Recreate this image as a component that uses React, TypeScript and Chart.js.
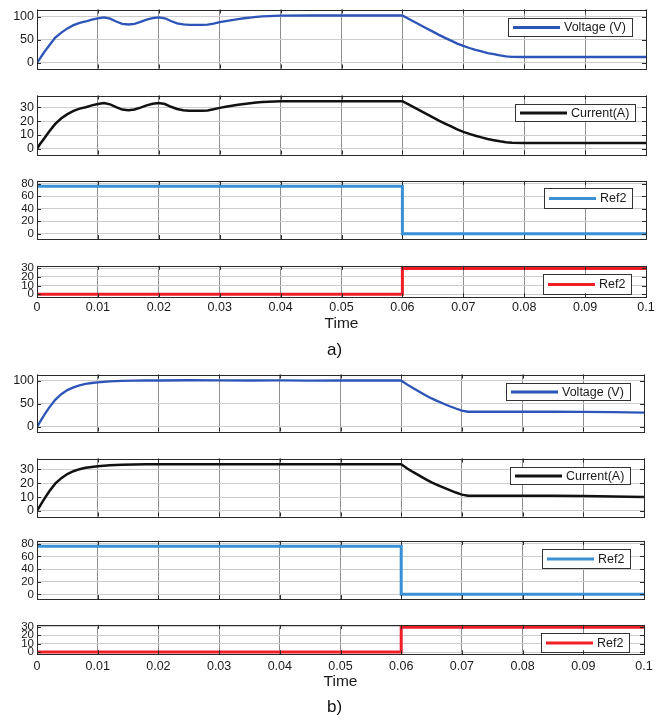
import React, { useEffect, useRef } from "react";
import { Chart, registerables } from "chart.js";

Chart.register(...registerables);

// ---------- data ----------
const xTicks = [0, 0.01, 0.02, 0.03, 0.04, 0.05, 0.06, 0.07, 0.08, 0.09, 0.1];
const xTickLabels = ["0", "0.01", "0.02", "0.03", "0.04", "0.05", "0.06", "0.07", "0.08", "0.09", "0.1"];

const timeA = [
  0, 0.0005, 0.001, 0.0015, 0.002, 0.003, 0.004, 0.005, 0.006, 0.007, 0.008, 0.009,
  0.01, 0.011, 0.012, 0.013, 0.014, 0.015, 0.016, 0.017, 0.018, 0.019, 0.02, 0.021,
  0.022, 0.023, 0.024, 0.025, 0.026, 0.027, 0.028, 0.029, 0.03, 0.031, 0.032, 0.033,
  0.034, 0.035, 0.036, 0.037, 0.038, 0.04, 0.045, 0.05, 0.055, 0.06, 0.061, 0.062,
  0.063, 0.064, 0.065, 0.066, 0.067, 0.068, 0.069, 0.07, 0.071, 0.072, 0.073, 0.074,
  0.075, 0.076, 0.077, 0.078, 0.08, 0.085, 0.09, 0.095, 0.1,
];
const voltageA = [
  0, 10, 20, 29, 38, 55, 66, 75, 82, 87, 90, 94,
  97, 99, 96, 90, 85, 83.5, 85, 89, 94, 97.5, 99, 97,
  91, 86, 83.5, 82.5, 82.5, 82.5, 83, 85.5, 88.5, 91, 93, 95,
  97, 98.5, 100, 101, 101.8, 102.5, 103, 103, 103, 103, 96, 89,
  82, 75, 68, 61, 54.5, 48.5, 42, 37, 32.5, 28.5, 25, 21.5,
  19, 16.5, 14.5, 13.2, 13, 13, 13, 13, 13,
];
const currentA = [
  0, 3.5, 6.5, 9.5, 12.5, 18, 22, 25, 27.3, 29, 30, 31.3,
  32.3, 33, 32, 30, 28.3, 27.8, 28.3, 29.7, 31.3, 32.5, 33, 32.3,
  30.3, 28.7, 27.8, 27.5, 27.5, 27.5, 27.7, 28.5, 29.5, 30.3, 31, 31.7,
  32.3, 32.8, 33.3, 33.7, 33.9, 34.2, 34.3, 34.3, 34.3, 34.3, 32, 29.7,
  27.3, 25, 22.7, 20.3, 18.2, 16.2, 14, 12.3, 10.8, 9.5, 8.3, 7.2,
  6.3, 5.5, 4.8, 4.4, 4.3, 4.3, 4.3, 4.3, 4.3,
];

const timeB = [
  0, 0.0005, 0.001, 0.0015, 0.002, 0.003, 0.004, 0.005, 0.006, 0.007, 0.008, 0.009,
  0.01, 0.012, 0.014, 0.016, 0.018, 0.02, 0.025, 0.03, 0.035, 0.04, 0.045, 0.05,
  0.055, 0.06, 0.061, 0.062, 0.063, 0.064, 0.065, 0.066, 0.067, 0.068, 0.069, 0.07,
  0.071, 0.075, 0.08, 0.085, 0.09, 0.095, 0.1,
];
const voltageB = [
  0, 11, 22, 32, 42, 59, 71, 80, 86, 90.5, 93.5, 95.5,
  97, 99, 100, 100.7, 101, 101, 101.5, 101.2, 101, 101.2, 100.8, 101,
  101, 101, 92, 84, 76.5, 69, 62, 56, 50.5, 45, 40, 35.5,
  33, 33, 33, 33, 32.5, 32, 31,
];
const currentB = [
  0, 3.7, 7.3, 10.7, 14, 19.7, 23.7, 26.7, 28.7, 30.2, 31.2, 31.8,
  32.3, 33, 33.3, 33.6, 33.7, 33.7, 33.8, 33.8, 33.7, 33.8, 33.7, 33.7,
  33.7, 33.7, 30.7, 28, 25.5, 23, 20.7, 18.7, 16.8, 15, 13.3, 11.8,
  11, 11, 11, 11, 10.8, 10.5, 10,
];

const refTime = [0, 0.06, 0.06, 0.1];
const ref2BlueA = [76, 76, 0, 0];
const ref2RedA = [0, 0, 29.5, 29.5];
const ref2BlueB = [76, 76, 0, 0];
const ref2RedB = [0, 0, 29.5, 29.5];

const voltageTicks = [0, 50, 100];
const currentTicks = [0, 10, 20, 30];
const refBlueTicks = [0, 20, 40, 60, 80];
const refRedTicks = [0, 10, 20, 30];

// ---------- styling ----------
const FONT = '"Liberation Sans", Arial, Helvetica, sans-serif';
const PAD = 8;
const W = 669;

type PanelCfg = {
  top: number;
  bottom: number;
  left: number;
  right: number;
  time: number[];
  values: number[];
  label: string;
  color: string;
  lineWidth: number;
  yMin: number;
  yMax: number;
  yTicks: number[];
  yFont: number;
  legend: { rightGap: number; topGap?: number; bottomGap?: number; height: number };
  xAxis?: { labelPad: number; height: number };
};

const framePlugin = {
  id: "matlabFrame",
  afterDraw(chart: any) {
    const { ctx, chartArea: a, scales } = chart;
    ctx.save();
    ctx.strokeStyle = "#2a2a2a";
    ctx.lineWidth = 1;
    ctx.beginPath();
    const xs = scales.x;
    const ys = scales.y;
    xs.ticks.forEach((t: any) => {
      const px = Math.round(xs.getPixelForValue(t.value)) + 0.5;
      ctx.moveTo(px, a.top);
      ctx.lineTo(px, a.top + 4);
      ctx.moveTo(px, a.bottom);
      ctx.lineTo(px, a.bottom - 4);
    });
    ys.ticks.forEach((t: any) => {
      const py = Math.round(ys.getPixelForValue(t.value)) + 0.5;
      ctx.moveTo(a.left, py);
      ctx.lineTo(a.left + 4, py);
      ctx.moveTo(a.right, py);
      ctx.lineTo(a.right - 4, py);
    });
    ctx.stroke();
    ctx.strokeRect(
      Math.round(a.left) + 0.5,
      Math.round(a.top) + 0.5,
      Math.round(a.right) - Math.round(a.left),
      Math.round(a.bottom) - Math.round(a.top)
    );
    ctx.restore();
  },
};

const legendPlugin = {
  id: "boxLegend",
  afterDatasetsDraw(chart: any, _args: any, opts: any) {
    const { ctx, chartArea: a } = chart;
    const ds = chart.data.datasets[0];
    ctx.save();
    ctx.font = `12.5px ${FONT}`;
    const tw = ctx.measureText(ds.label).width;
    const padL = 5, lineLen = 47, gap = 4, padR = 6;
    const w = padL + lineLen + gap + tw + padR;
    const h = opts.height;
    const x = Math.round(a.right - opts.rightGap - w);
    const y = Math.round(
      opts.topGap != null ? a.top + opts.topGap : a.bottom - opts.bottomGap - h
    );
    ctx.fillStyle = "#ffffff";
    ctx.fillRect(x, y, w, h);
    ctx.strokeStyle = "#333333";
    ctx.lineWidth = 1;
    ctx.strokeRect(x + 0.5, y + 0.5, Math.round(w), Math.round(h));
    ctx.strokeStyle = ds.borderColor;
    ctx.lineWidth = 3;
    ctx.beginPath();
    ctx.moveTo(x + padL, y + h / 2 + 0.5);
    ctx.lineTo(x + padL + lineLen, y + h / 2 + 0.5);
    ctx.stroke();
    ctx.fillStyle = "#1a1a1a";
    ctx.textBaseline = "middle";
    ctx.textAlign = "left";
    ctx.fillText(ds.label, x + padL + lineLen + gap, y + h / 2 + 1);
    ctx.restore();
  },
};

function Panel({ cfg }: { cfg: PanelCfg }) {
  const ref = useRef<HTMLCanvasElement | null>(null);
  const plotH = cfg.bottom - cfg.top;
  const xH = cfg.xAxis ? cfg.xAxis.height : 0;
  const canvasH = Math.round(plotH + PAD + xH + PAD);

  useEffect(() => {
    if (!ref.current) return;
    const chart = new Chart(ref.current, {
      type: "line",
      data: {
        datasets: [
          {
            label: cfg.label,
            data: cfg.time.map((t, i) => ({ x: t, y: cfg.values[i] })),
            borderColor: cfg.color,
            backgroundColor: cfg.color,
            borderWidth: cfg.lineWidth,
            pointRadius: 0,
            tension: 0,
            fill: false,
          },
        ],
      },
      options: {
        animation: false,
        responsive: false,
        maintainAspectRatio: false,
        devicePixelRatio: 1,
        events: [],
        layout: {
          padding: { left: 0, right: W - cfg.right, top: PAD, bottom: PAD },
        },
        plugins: {
          legend: { display: false },
          tooltip: { enabled: false },
          // @ts-ignore
          boxLegend: cfg.legend,
        },
        scales: {
          x: {
            type: "linear",
            min: 0,
            max: 0.1,
            afterBuildTicks: (s: any) => {
              s.ticks = xTicks.map((v) => ({ value: v }));
            },
            afterFit: (s: any) => {
              s.height = xH;
            },
            grid: { color: "#8e8e8e", lineWidth: 1, drawTicks: false },
            border: { display: false },
            ticks: {
              display: !!cfg.xAxis,
              autoSkip: false,
              maxRotation: 0,
              padding: cfg.xAxis ? cfg.xAxis.labelPad : 0,
              color: "#1a1a1a",
              font: { family: FONT, size: 12.5 },
              callback: (_v: any, i: number) => xTickLabels[i],
            },
            title: {
              display: !!cfg.xAxis,
              text: "Time",
              color: "#1a1a1a",
              font: { family: FONT, size: 15.5 },
              padding: 0,
            },
          },
          y: {
            type: "linear",
            min: cfg.yMin,
            max: cfg.yMax,
            afterBuildTicks: (s: any) => {
              s.ticks = cfg.yTicks.map((v) => ({ value: v }));
            },
            afterFit: (s: any) => {
              s.width = cfg.left;
            },
            grid: { color: "#cdcdcd", lineWidth: 1, drawTicks: false },
            border: { display: false },
            ticks: {
              autoSkip: false,
              padding: 3,
              color: "#1a1a1a",
              font: { family: FONT, size: cfg.yFont },
              callback: (v: any) => String(v),
            },
          },
        },
      },
      plugins: [legendPlugin, framePlugin],
    } as any);
    return () => chart.destroy();
  }, []);

  return (
    <canvas
      ref={ref}
      width={W}
      height={canvasH}
      style={{ position: "absolute", left: 0, top: cfg.top - PAD, width: W, height: canvasH }}
    />
  );
}

const VOLT_COLOR = "#2d55b8";
const CURR_COLOR = "#111111";
const REF_BLUE = "#3a90d4";
const REF_RED = "#ee1f27";

const panels: PanelCfg[] = [
  // ---- a) ----
  {
    top: 7, bottom: 71, left: 37, right: 646, time: timeA, values: voltageA,
    label: "Voltage (V)", color: VOLT_COLOR, lineWidth: 2.3,
    yMin: -12, yMax: 116, yTicks: voltageTicks, yFont: 12.5,
    legend: { rightGap: 14, topGap: 8, height: 18 },
  },
  {
    top: 92.7, bottom: 156.7, left: 37, right: 646, time: timeA, values: currentA,
    label: "Current(A)", color: CURR_COLOR, lineWidth: 2.5,
    yMin: -4, yMax: 38.4, yTicks: currentTicks, yFont: 12.5,
    legend: { rightGap: 11, topGap: 8.3, height: 17 },
  },
  {
    top: 179.3, bottom: 241.7, left: 37, right: 646, time: refTime, values: ref2BlueA,
    label: "Ref2", color: REF_BLUE, lineWidth: 3,
    yMin: -8.5, yMax: 84.5, yTicks: refBlueTicks, yFont: 11.5,
    legend: { rightGap: 14, topGap: 6.7, height: 20 },
  },
  {
    top: 263.7, bottom: 297.3, left: 37, right: 646, time: refTime, values: ref2RedA,
    label: "Ref2", color: REF_RED, lineWidth: 3,
    yMin: -3.5, yMax: 32.5, yTicks: refRedTicks, yFont: 11.5,
    legend: { rightGap: 15, bottomGap: 3.3, height: 20 },
    xAxis: { labelPad: 3, height: 35.7 },
  },
  // ---- b) ----
  {
    top: 372.3, bottom: 434.3, left: 37, right: 644, time: timeB, values: voltageB,
    label: "Voltage (V)", color: VOLT_COLOR, lineWidth: 2.3,
    yMin: -10, yMax: 114, yTicks: voltageTicks, yFont: 12.5,
    legend: { rightGap: 14, topGap: 8.4, height: 17 },
  },
  {
    top: 455.7, bottom: 518.3, left: 37, right: 644, time: timeB, values: currentB,
    label: "Current(A)", color: CURR_COLOR, lineWidth: 2.5,
    yMin: -4, yMax: 37.9, yTicks: currentTicks, yFont: 12.5,
    legend: { rightGap: 14, topGap: 8.3, height: 17 },
  },
  {
    top: 539.3, bottom: 601, left: 37, right: 644, time: refTime, values: ref2BlueB,
    label: "Ref2", color: REF_BLUE, lineWidth: 3,
    yMin: -7.5, yMax: 84.5, yTicks: refBlueTicks, yFont: 11.5,
    legend: { rightGap: 14, topGap: 8, height: 19 },
  },
  {
    top: 623, bottom: 654, left: 37, right: 644, time: refTime, values: ref2RedB,
    label: "Ref2", color: REF_RED, lineWidth: 3,
    yMin: -2.6, yMax: 32.2, yTicks: refRedTicks, yFont: 11.5,
    legend: { rightGap: 15, bottomGap: 2.3, height: 19 },
    xAxis: { labelPad: 5, height: 36.7 },
  },
];

const captionStyle: React.CSSProperties = {
  position: "absolute",
  left: 327,
  fontFamily: FONT,
  fontSize: 17,
  lineHeight: "20px",
  color: "#111",
  whiteSpace: "nowrap",
};

export default function App() {
  return (
    <div
      style={{
        position: "absolute",
        left: 0,
        top: 0,
        width: W,
        height: 720,
        background: "#ffffff",
        overflow: "hidden",
      }}
    >
      {panels.map((p, i) => (
        <Panel key={i} cfg={p} />
      ))}
      <div style={{ ...captionStyle, top: 340 }}>a)</div>
      <div style={{ ...captionStyle, top: 697 }}>b)</div>
    </div>
  );
}
